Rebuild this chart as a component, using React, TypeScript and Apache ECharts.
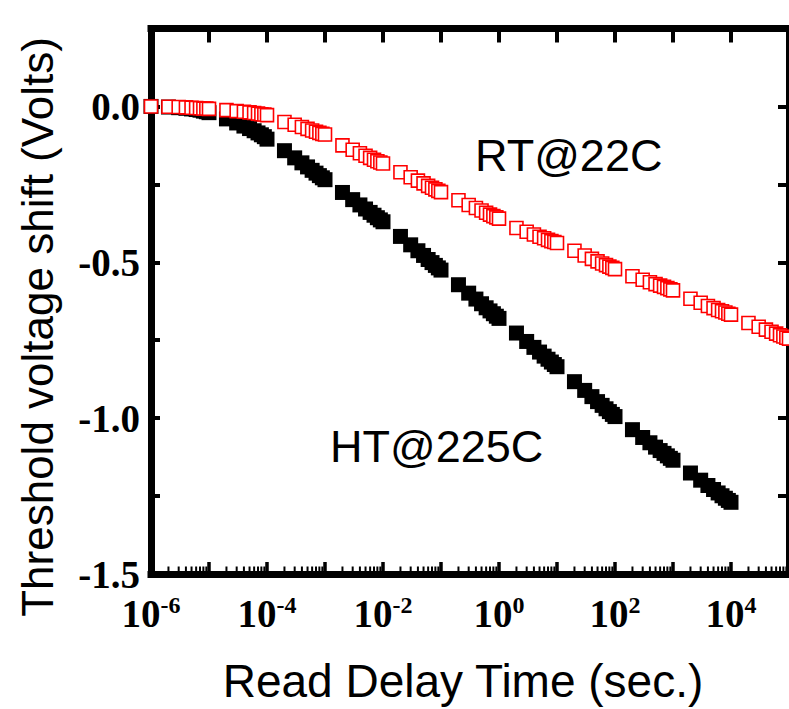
import React, { useEffect, useRef } from "react";
import * as echarts from "echarts";

// Read delay times (sec.)
const timesHT = [
  1e-6, 2e-6, 3e-6, 4e-6, 5e-6, 6e-6, 7e-6, 8e-6, 9e-6,
  1e-5, 2e-5, 3e-5, 4e-5, 5e-5, 6e-5, 7e-5, 8e-5, 9e-5,
  1e-4, 2e-4, 3e-4, 4e-4, 5e-4, 6e-4, 7e-4, 8e-4, 9e-4,
  1e-3, 2e-3, 3e-3, 4e-3, 5e-3, 6e-3, 7e-3, 8e-3, 9e-3,
  1e-2, 2e-2, 3e-2, 4e-2, 5e-2, 6e-2, 7e-2, 8e-2, 9e-2,
  1e-1, 2e-1, 3e-1, 4e-1, 5e-1, 6e-1, 7e-1, 8e-1, 9e-1,
  1, 2, 3, 4, 5, 6, 7, 8, 9,
  10, 20, 30, 40, 50, 60, 70, 80, 90,
  100, 200, 300, 400, 500, 600, 700, 800, 900,
  1000, 2000, 3000, 4000, 5000, 6000, 7000, 8000, 9000,
  10000,
];

const valuesHT = [
  0.0, -0.002, -0.004, -0.006, -0.008, -0.01, -0.012, -0.015, -0.017,
  -0.02, -0.04, -0.053, -0.063, -0.071, -0.078, -0.085, -0.091, -0.097,
  -0.105, -0.142, -0.165, -0.181, -0.194, -0.205, -0.214, -0.222, -0.229,
  -0.235, -0.276, -0.299, -0.316, -0.329, -0.34, -0.349, -0.357, -0.364,
  -0.37, -0.417, -0.444, -0.463, -0.478, -0.491, -0.501, -0.51, -0.518,
  -0.525, -0.572, -0.599, -0.618, -0.633, -0.646, -0.656, -0.665, -0.673,
  -0.68, -0.727, -0.754, -0.773, -0.788, -0.801, -0.811, -0.82, -0.828,
  -0.835, -0.883, -0.911, -0.931, -0.947, -0.959, -0.97, -0.979, -0.988,
  -0.995, -1.037, -1.062, -1.079, -1.093, -1.104, -1.113, -1.121, -1.129,
  -1.135, -1.176, -1.199, -1.216, -1.229, -1.24, -1.249, -1.257, -1.264,
  -1.27,
];

const timesRT = [
  1e-6, 2e-6, 3e-6, 4e-6, 5e-6, 6e-6, 7e-6, 8e-6, 9e-6,
  1e-5, 2e-5, 3e-5, 4e-5, 5e-5, 6e-5, 7e-5, 8e-5, 9e-5,
  1e-4, 2e-4, 3e-4, 4e-4, 5e-4, 6e-4, 7e-4, 8e-4, 9e-4,
  1e-3, 2e-3, 3e-3, 4e-3, 5e-3, 6e-3, 7e-3, 8e-3, 9e-3,
  1e-2, 2e-2, 3e-2, 4e-2, 5e-2, 6e-2, 7e-2, 8e-2, 9e-2,
  1e-1, 2e-1, 3e-1, 4e-1, 5e-1, 6e-1, 7e-1, 8e-1, 9e-1,
  1, 2, 3, 4, 5, 6, 7, 8, 9,
  10, 20, 30, 40, 50, 60, 70, 80, 90,
  100, 200, 300, 400, 500, 600, 700, 800, 900,
  1000, 2000, 3000, 4000, 5000, 6000, 7000, 8000, 9000,
  10000, 20000, 30000, 40000, 50000, 60000, 70000, 80000, 90000,
  100000,
];

const valuesRT = [
  0.0, -0.001, -0.002, -0.003, -0.004, -0.005, -0.006, -0.007, -0.007,
  -0.008, -0.012, -0.015, -0.017, -0.019, -0.021, -0.023, -0.025, -0.026,
  -0.028, -0.05, -0.059, -0.066, -0.072, -0.077, -0.081, -0.085, -0.088,
  -0.09, -0.125, -0.139, -0.15, -0.158, -0.165, -0.171, -0.176, -0.18,
  -0.183, -0.211, -0.227, -0.238, -0.247, -0.255, -0.261, -0.266, -0.271,
  -0.275, -0.301, -0.316, -0.326, -0.334, -0.341, -0.347, -0.352, -0.356,
  -0.36, -0.39, -0.402, -0.411, -0.418, -0.423, -0.428, -0.432, -0.435,
  -0.438, -0.463, -0.478, -0.489, -0.497, -0.504, -0.509, -0.514, -0.518,
  -0.522, -0.545, -0.556, -0.564, -0.57, -0.575, -0.579, -0.583, -0.587,
  -0.59, -0.617, -0.63, -0.64, -0.647, -0.653, -0.657, -0.661, -0.665,
  -0.668, -0.695, -0.707, -0.716, -0.723, -0.729, -0.734, -0.738, -0.742,
  -0.745,
];

// axis setup
const xMin = 1e-6;
const xMax = 1e5;
const yMin = -1.5;
const yMax = 0.25;
const decadeExponents = [-6, -5, -4, -3, -2, -1, 0, 1, 2, 3, 4, 5];
const labelExponents = [-6, -4, -2, 0, 2, 4];
const minorMultipliers = [2, 3, 4, 5, 6, 7, 8, 9];

const labelsHT = "HT@225C";
const labelsRT = "RT@22C";
const xTitle = "Read Delay Time (sec.)";
const yTitle = "Threshold voltage shift (Volts)";

const SERIF = "'Liberation Serif', 'Times New Roman', serif";
const SANS = "'Liberation Sans', Arial, sans-serif";

export default function App() {
  const ref = useRef<HTMLDivElement>(null);

  useEffect(() => {
    if (!ref.current) return;
    const chart = echarts.init(ref.current, undefined, { renderer: "svg" });

    const minorTicks: number[][] = [];
    decadeExponents.forEach((e) => {
      if (e >= 5) return;
      minorMultipliers.forEach((m) => {
        minorTicks.push([m * Math.pow(10, e), yMin]);
      });
    });
    const majorBottom = decadeExponents.map((e) => [Math.pow(10, e), yMin]);
    const majorTop = decadeExponents.map((e) => [Math.pow(10, e), yMax]);
    const labelData = labelExponents.map((e) => [Math.pow(10, e), yMin, e]);

    const gridLeft = 151;
    const gridTop = 28.5;
    const gridWidth = 644.5;
    const gridHeight = 545.5;

    const axisLineStyle = { color: "#000", width: 7, cap: "square" as const };

    const tickSeries = (data: number[][], dir: number, len: number, width: number) => ({
      type: "custom",
      xAxisIndex: 0,
      yAxisIndex: 0,
      silent: true,
      clip: false,
      data,
      renderItem: (params: any, api: any) => {
        const p = api.coord([api.value(0), api.value(1)]);
        return {
          type: "line",
          shape: { x1: p[0], y1: p[1], x2: p[0], y2: p[1] + dir * len },
          style: { stroke: "#000", lineWidth: width },
        };
      },
      z: 5,
    });

    chart.setOption({
      animation: false,
      backgroundColor: "#fff",
      grid: {
        left: gridLeft,
        top: gridTop,
        width: gridWidth,
        height: gridHeight,
        containLabel: false,
      },
      xAxis: [
        {
          type: "log",
          logBase: 10,
          min: xMin,
          max: xMax,
          position: "bottom",
          axisLine: { show: true, onZero: false, lineStyle: axisLineStyle },
          axisTick: { show: false },
          splitLine: { show: false },
          axisLabel: { show: false },
        },
        {
          type: "log",
          logBase: 10,
          min: xMin,
          max: xMax,
          position: "top",
          axisLine: { show: true, onZero: false, lineStyle: axisLineStyle },
          axisTick: { show: false },
          splitLine: { show: false },
          axisLabel: { show: false },
        },
      ],
      yAxis: [
        {
          type: "value",
          min: yMin,
          max: yMax,
          interval: 0.25,
          position: "left",
          axisLine: { show: true, onZero: false, lineStyle: axisLineStyle },
          axisTick: { show: true, inside: true, length: 9, lineStyle: { color: "#000", width: 4 } },
          splitLine: { show: false },
          axisLabel: {
            show: true,
            margin: 11,
            fontFamily: SERIF,
            fontWeight: "bold",
            fontSize: 39,
            color: "#000",
            formatter: (v: number) => {
              if (v > 0.001) return "";
              if (Math.abs(v * 2 - Math.round(v * 2)) > 1e-6) return "";
              return v.toFixed(1);
            },
          },
        },
        {
          type: "value",
          min: yMin,
          max: yMax,
          interval: 0.25,
          position: "right",
          axisLine: { show: true, onZero: false, lineStyle: axisLineStyle },
          axisTick: { show: true, inside: true, length: 11, lineStyle: { color: "#000", width: 4 } },
          splitLine: { show: false },
          axisLabel: { show: false },
        },
      ],
      series: [
        tickSeries(minorTicks, -1, 7.5, 2),
        tickSeries(majorBottom, -1, 12, 3.5),
        tickSeries(majorTop, 1, 14, 4),
        {
          type: "custom",
          xAxisIndex: 0,
          yAxisIndex: 0,
          silent: true,
          clip: false,
          data: labelData,
          renderItem: (params: any, api: any) => {
            const p = api.coord([api.value(0), api.value(1)]);
            const e = api.value(2);
            return {
              type: "text",
              x: p[0],
              y: p[1] + 19,
              style: {
                text: `{b|10}{s|${e}}`,
                align: "center",
                verticalAlign: "top",
                fill: "#000",
                rich: {
                  b: {
                    fontFamily: SERIF,
                    fontWeight: "bold",
                    fontSize: 39,
                    lineHeight: 40,
                    fill: "#000",
                  },
                  s: {
                    fontFamily: SERIF,
                    fontWeight: "bold",
                    fontSize: 24,
                    lineHeight: 22,
                    verticalAlign: "top",
                    fill: "#000",
                  },
                },
              },
            };
          },
          z: 5,
        },
        {
          name: labelsHT,
          type: "scatter",
          xAxisIndex: 0,
          yAxisIndex: 0,
          symbol: "rect",
          symbolSize: 15,
          itemStyle: { color: "#000", opacity: 1 },
          data: timesHT.map((t, i) => [t, valuesHT[i]]),
          z: 2,
        },
        {
          name: labelsRT,
          type: "scatter",
          xAxisIndex: 0,
          yAxisIndex: 0,
          symbol: "rect",
          symbolSize: 13,
          itemStyle: { color: "#fff", borderColor: "#ff0000", borderWidth: 1.6, opacity: 1 },
          data: timesRT.map((t, i) => [t, valuesRT[i]]),
          z: 3,
        },
      ],
      graphic: [
        {
          type: "text",
          x: 37,
          y: 327,
          rotation: Math.PI / 2,
          style: {
            text: yTitle,
            fontFamily: SANS,
            fontSize: 44,
            fill: "#000",
            align: "center",
            verticalAlign: "middle",
          },
        },
        {
          type: "text",
          x: 463,
          y: 681,
          style: {
            text: xTitle,
            fontFamily: SANS,
            fontSize: 46,
            fill: "#000",
            align: "center",
            verticalAlign: "middle",
          },
        },
        {
          type: "text",
          x: 475,
          y: 155,
          style: {
            text: labelsRT,
            fontFamily: SANS,
            fontSize: 45,
            fill: "#000",
            align: "left",
            verticalAlign: "middle",
          },
        },
        {
          type: "text",
          x: 330,
          y: 446,
          style: {
            text: labelsHT,
            fontFamily: SANS,
            fontSize: 45,
            fill: "#000",
            align: "left",
            verticalAlign: "middle",
          },
        },
      ],
    });

    return () => {
      chart.dispose();
    };
  }, []);

  return (
    <div
      ref={ref}
      style={{ position: "absolute", left: 0, top: 0, width: 789, height: 709, overflow: "hidden" }}
    />
  );
}
